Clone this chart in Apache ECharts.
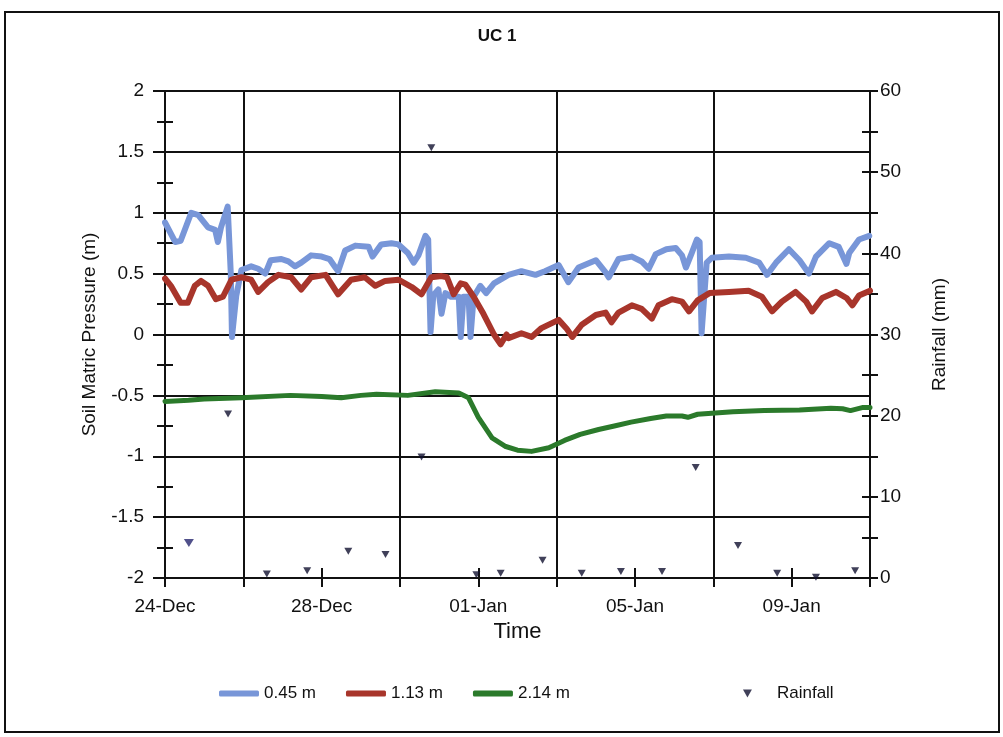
<!DOCTYPE html>
<html><head><meta charset="utf-8">
<script src="https://cdn.jsdelivr.net/npm/echarts@6/dist/echarts.min.js"></script>
<style>html,body{margin:0;padding:0;background:#fff;} #chart{width:1003px;height:737px;}</style>
</head><body><div id="chart"></div>
<script>
// x values are days after 24-Dec
const dateLabels = ['24-Dec', '28-Dec', '01-Jan', '05-Jan', '09-Jan'];

const shallowDays = [0.0,0.26,0.4,0.67,0.85,1.1,1.28,1.35,1.43,1.6,1.68,1.71,1.82,1.95,2.2,2.38,2.56,2.7,2.97,3.15,3.32,3.48,3.73,4.0,4.2,4.35,4.42,4.6,4.86,5.2,5.3,5.52,5.78,5.96,6.2,6.35,6.47,6.65,6.72,6.78,6.85,6.98,7.06,7.16,7.3,7.5,7.55,7.62,7.75,7.8,7.88,8.05,8.2,8.4,8.77,9.1,9.46,9.7,10.05,10.3,10.56,11.0,11.25,11.33,11.58,11.92,12.17,12.35,12.53,12.8,13.04,13.2,13.3,13.45,13.58,13.65,13.7,13.83,13.96,14.4,14.83,15.17,15.37,15.6,15.93,16.2,16.44,16.62,16.96,17.2,17.4,17.47,17.72,17.98];
const shallowPressure = [0.92,0.76,0.77,1.0,0.98,0.88,0.86,0.76,0.88,1.05,0.5,-0.02,0.32,0.53,0.56,0.54,0.5,0.61,0.62,0.6,0.56,0.59,0.65,0.64,0.62,0.55,0.52,0.69,0.73,0.72,0.64,0.74,0.75,0.74,0.67,0.59,0.65,0.81,0.78,0.02,0.32,0.37,0.17,0.34,0.31,0.31,-0.02,0.31,0.31,-0.02,0.31,0.4,0.34,0.42,0.49,0.52,0.49,0.52,0.57,0.43,0.55,0.61,0.51,0.47,0.62,0.64,0.6,0.54,0.66,0.7,0.71,0.65,0.55,0.67,0.78,0.76,0.01,0.59,0.63,0.64,0.63,0.59,0.49,0.59,0.7,0.61,0.5,0.64,0.75,0.72,0.58,0.67,0.78,0.81];

const midDays = [0.0,0.15,0.4,0.58,0.76,0.92,1.1,1.3,1.48,1.7,1.95,2.2,2.38,2.63,2.9,3.22,3.48,3.73,4.1,4.3,4.42,4.75,5.1,5.37,5.62,5.96,6.3,6.55,6.8,7.06,7.2,7.37,7.55,7.67,7.88,8.13,8.4,8.57,8.72,8.77,9.1,9.36,9.6,10.05,10.25,10.4,10.64,11.0,11.25,11.4,11.58,11.92,12.17,12.43,12.6,12.94,13.2,13.38,13.6,13.9,14.4,14.9,15.24,15.5,15.75,16.1,16.37,16.52,16.78,17.13,17.4,17.55,17.72,18.0];
const midPressure = [0.46,0.4,0.26,0.26,0.4,0.44,0.4,0.29,0.31,0.45,0.47,0.45,0.35,0.43,0.49,0.47,0.37,0.47,0.49,0.39,0.33,0.45,0.47,0.4,0.44,0.45,0.39,0.33,0.47,0.48,0.47,0.33,0.42,0.41,0.31,0.17,0.0,-0.08,0.0,-0.03,0.01,-0.02,0.05,0.12,0.05,-0.02,0.08,0.16,0.18,0.1,0.18,0.24,0.21,0.13,0.24,0.29,0.27,0.19,0.28,0.34,0.35,0.36,0.31,0.19,0.27,0.35,0.27,0.19,0.3,0.35,0.3,0.24,0.32,0.36];

const deepDays = [0,0.6,1.0,1.95,3.2,4.0,4.5,5.0,5.4,6.2,6.9,7.5,7.75,8.0,8.35,8.7,9.0,9.36,9.8,10.2,10.6,11.07,11.5,11.9,12.4,12.8,13.2,13.35,13.6,14.5,15.3,16.2,17.0,17.3,17.5,17.8,18.0];
const deepPressure = [-0.55,-0.54,-0.53,-0.52,-0.5,-0.51,-0.52,-0.5,-0.49,-0.5,-0.47,-0.48,-0.52,-0.68,-0.85,-0.92,-0.95,-0.96,-0.93,-0.87,-0.82,-0.78,-0.75,-0.72,-0.69,-0.67,-0.67,-0.68,-0.655,-0.635,-0.625,-0.62,-0.605,-0.61,-0.625,-0.6,-0.6];

const rainDays = [0.61,1.61,2.6,3.63,4.68,5.63,6.55,6.8,7.95,8.57,9.64,10.64,11.64,12.69,13.55,14.63,15.63,16.62,17.62];
const rainMm = [4.3,20.2,0.5,0.9,3.3,2.9,14.9,53,0.4,0.6,2.2,0.6,0.8,0.8,13.6,4.0,0.6,0.1,0.9];

const seriesNames = ['0.45 m', '1.13 m', '2.14 m', 'Rainfall'];

const zip = (a, b) => a.map((d, i) => [d, b[i]]);
const FONT = '"Liberation Sans", Arial, sans-serif';
const INK = '#111';
const downTri = 'path://M0,0L10,0L5,9Z';

const gridBox = { left: 165, right: 133, top: 91, bottom: 159, containLabel: false };

const chart = echarts.init(document.getElementById('chart'));
const axisLine = { show: true, onZero: false, lineStyle: { color: INK, width: 2 } };
const noLine = { show: false, onZero: false };
const tickStyle = { color: INK, width: 2 };

const rainData = zip(rainDays, rainMm).map((p, i) => i === 0
  ? { value: p, symbolSize: [10, 8], itemStyle: { color: '#25256e' } }
  : { value: p });

chart.setOption({
  animation: false,
  backgroundColor: '#fff',
  textStyle: { fontFamily: FONT },
  // grid 1 overlays grid 0 and only carries the inner halves of the crossing ticks
  grid: [Object.assign({}, gridBox), Object.assign({}, gridBox)],
  graphic: [
    { type: 'rect', shape: { x: 5, y: 12, width: 994, height: 720 }, style: { fill: 'none', stroke: INK, lineWidth: 2 }, silent: true },
    { type: 'text', x: 497, y: 36, style: { text: 'UC 1', font: 'bold 17px ' + FONT, fill: INK, textAlign: 'center', textVerticalAlign: 'middle' } }
  ],
  legend: [
    { data: [
        { name: seriesNames[0], icon: 'roundRect' },
        { name: seriesNames[1], icon: 'roundRect' },
        { name: seriesNames[2], icon: 'roundRect' }],
      left: 214, top: 680, itemWidth: 40, itemHeight: 6, itemGap: 30,
      textStyle: { fontSize: 17, color: INK, fontFamily: FONT } },
    { data: [{ name: seriesNames[3], icon: downTri }],
      left: 738, top: 680, itemWidth: 9, itemHeight: 8,
      textStyle: { fontSize: 17, color: INK, fontFamily: FONT, padding: [0, 0, 0, 20] } }
  ],
  xAxis: [
    { gridIndex: 0, type: 'value', min: 0, max: 18, interval: 2, position: 'bottom',
      axisLine: axisLine,
      axisTick: { show: true, length: 9, lineStyle: tickStyle },
      axisLabel: { fontSize: 19, color: INK, margin: 19, fontFamily: FONT,
        formatter: v => (v % 4 === 0 && v < 18) ? dateLabels[v / 4] : '' },
      splitLine: { show: true, lineStyle: { color: ['rgba(0,0,0,0)', INK], width: 2 } },
      name: 'Time', nameLocation: 'middle', nameGap: 41,
      nameTextStyle: { fontSize: 22, color: INK, fontFamily: FONT } },
    { gridIndex: 1, type: 'value', min: 0, max: 18, interval: 4, position: 'bottom',
      axisLine: noLine, axisLabel: { show: false }, splitLine: { show: false },
      axisTick: { show: true, inside: true, length: 10, lineStyle: tickStyle } }
  ],
  yAxis: [
    { gridIndex: 0, type: 'value', min: -2, max: 2, interval: 0.5, position: 'left',
      axisLine: axisLine,
      axisTick: { show: true, length: 12, lineStyle: tickStyle },
      minorTick: { show: true, splitNumber: 2, length: 8, lineStyle: tickStyle },
      axisLabel: { fontSize: 19, color: INK, margin: 21, fontFamily: FONT },
      splitLine: { show: true, lineStyle: { color: INK, width: 2 } },
      name: 'Soil Matric Pressure (m)', nameLocation: 'middle', nameGap: 66, nameRotate: 90,
      nameTextStyle: { fontSize: 19, color: INK, fontFamily: FONT } },
    { gridIndex: 0, type: 'value', min: 0, max: 60, interval: 10, position: 'right',
      axisLine: axisLine,
      axisTick: { show: true, length: 8, lineStyle: tickStyle },
      minorTick: { show: true, splitNumber: 2, length: 8, lineStyle: tickStyle },
      axisLabel: { fontSize: 19, color: INK, margin: 10, fontFamily: FONT },
      splitLine: { show: false },
      name: 'Rainfall (mm)', nameLocation: 'middle', nameGap: 60, nameRotate: 90,
      nameTextStyle: { fontSize: 19, color: INK, fontFamily: FONT } },
    { gridIndex: 1, type: 'value', min: -2, max: 2, interval: 0.5, position: 'left',
      axisLine: noLine, axisLabel: { show: false }, splitLine: { show: false },
      axisTick: { show: false, inside: true },
      minorTick: { show: true, splitNumber: 2, length: 8, lineStyle: tickStyle } },
    { gridIndex: 1, type: 'value', min: 0, max: 60, interval: 10, position: 'right',
      axisLine: noLine, axisLabel: { show: false }, splitLine: { show: false },
      axisTick: { show: true, inside: true, length: 8, lineStyle: tickStyle },
      minorTick: { show: true, splitNumber: 2, length: 8, lineStyle: tickStyle } }
  ],
  series: [
    { name: seriesNames[0], type: 'line', xAxisIndex: 0, yAxisIndex: 0, data: zip(shallowDays, shallowPressure),
      showSymbol: false, symbol: 'none', color: '#7896d8',
      lineStyle: { width: 6, color: '#7896d8', cap: 'round', join: 'round' } },
    { name: seriesNames[1], type: 'line', xAxisIndex: 0, yAxisIndex: 0, data: zip(midDays, midPressure),
      showSymbol: false, symbol: 'none', color: '#a8352b',
      lineStyle: { width: 6, color: '#a8352b', cap: 'round', join: 'round' } },
    { name: seriesNames[2], type: 'line', xAxisIndex: 0, yAxisIndex: 0, data: zip(deepDays, deepPressure),
      showSymbol: false, symbol: 'none', color: '#2b7a2b',
      lineStyle: { width: 5, color: '#2b7a2b', cap: 'round', join: 'round' } },
    { name: seriesNames[3], type: 'scatter', xAxisIndex: 0, yAxisIndex: 1, data: rainData,
      symbol: downTri, symbolSize: [8, 7], color: '#101030', itemStyle: { color: '#101030' } }
  ]
});
</script>
</body></html>
